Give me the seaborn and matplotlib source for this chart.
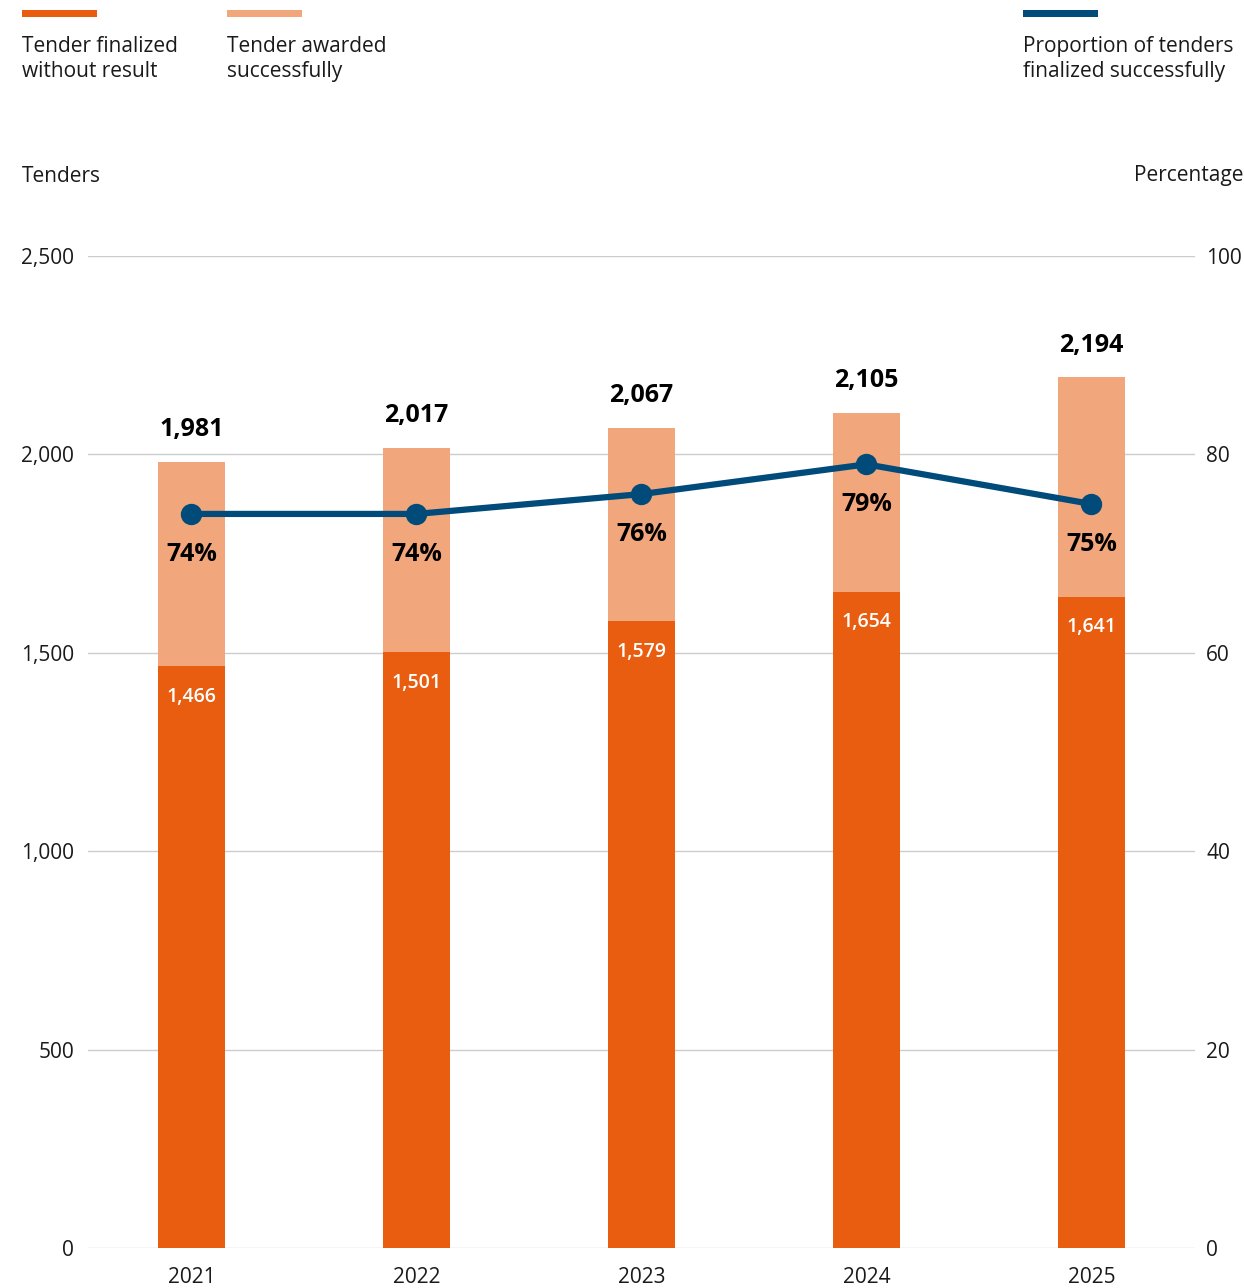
import matplotlib
matplotlib.use("Agg")
import matplotlib.pyplot as plt
import seaborn as sns
from matplotlib.patches import Rectangle

years = ["2021", "2022", "2023", "2024", "2025"]
without_result = [1466, 1501, 1579, 1654, 1641]
totals = [1981, 2017, 2067, 2105, 2194]
proportion = [74, 74, 76, 79, 75]

legend_labels = ["Tender finalized\nwithout result", "Tender awarded\nsuccessfully",
                 "Proportion of tenders\nfinalized successfully"]

DARK = "#E85D0F"
LIGHT = "#F2A67B"
BLUE = "#004B7A"
TXT = "#1a1a1a"

sns.set_theme(style="white")
plt.rcParams["font.family"] = ["Open Sans", "DejaVu Sans"]

W, H = 1244, 1288
fig = plt.figure(figsize=(W / 100, H / 100), dpi=100)
ax = fig.add_axes([88 / W, 40 / H, 1107 / W, 992 / H])

sns.barplot(x=years, y=totals, color=LIGHT, width=0.3, ax=ax, saturation=1, linewidth=0)
sns.barplot(x=years, y=without_result, color=DARK, width=0.3, ax=ax, saturation=1, linewidth=0)

ax.set_ylim(0, 2500)
ax.set_yticks([0, 500, 1000, 1500, 2000, 2500])
ax.set_yticklabels(["0", "500", "1,000", "1,500", "2,000", "2,500"])
ax.grid(axis="y", color="#cccccc", linewidth=1)
ax.set_axisbelow(True)
for s in ax.spines.values():
    s.set_visible(False)
ax.tick_params(axis="both", length=0, labelsize=15, colors=TXT)
ax.tick_params(axis="y", pad=10)
ax.tick_params(axis="x", pad=14)
ax.set_xlabel("")
ax.set_ylabel("")

for i, (t, b) in enumerate(zip(totals, without_result)):
    ax.annotate(f"{t:,}", (i, t), xytext=(0, 23), textcoords="offset points",
                ha="center", va="center", fontsize=18, fontweight="bold", color="black")
    ax.annotate(f"{b:,}", (i, b), xytext=(0, -22), textcoords="offset points",
                ha="center", va="center", fontsize=14, fontweight="semibold", color="white")

ax2 = ax.twinx()
sns.pointplot(x=years, y=proportion, color=BLUE, ax=ax2, markers="o",
              linewidth=4.5, markersize=12, errorbar=None)
ax2.set_ylim(0, 100)
ax2.set_yticks([0, 20, 40, 60, 80, 100])
for s in ax2.spines.values():
    s.set_visible(False)
ax2.tick_params(axis="y", length=0, labelsize=15, colors=TXT, pad=8)
ax2.set_ylabel("")
ax2.grid(False)
for i, p in enumerate(proportion):
    ax2.annotate(f"{p}%", (i, p), xytext=(0, -29), textcoords="offset points",
                 ha="center", va="center", fontsize=18, fontweight="bold", color="black")

ax.set_xlim(-0.46, 4.46)
ax2.set_xlim(-0.46, 4.46)

# axis titles
fig.text(22 / W, 1 - 176 / H, "Tenders", fontsize=15, color=TXT, va="center", ha="left")
fig.text(1244 / W, 1 - 176 / H, "Percentage", fontsize=15, color=TXT, va="center", ha="right")

# legend
for x0, col, lab in zip([22, 227, 1023], [DARK, LIGHT, BLUE], legend_labels):
    fig.add_artist(Rectangle((x0 / W, 1 - 17 / H), 75 / W, 7 / H,
                             transform=fig.transFigure, color=col, lw=0))
    fig.text(x0 / W, 1 - 36 / H, lab, fontsize=15, color=TXT, va="top", ha="left",
             linespacing=1.25)

fig.savefig("out.png", dpi=100)
